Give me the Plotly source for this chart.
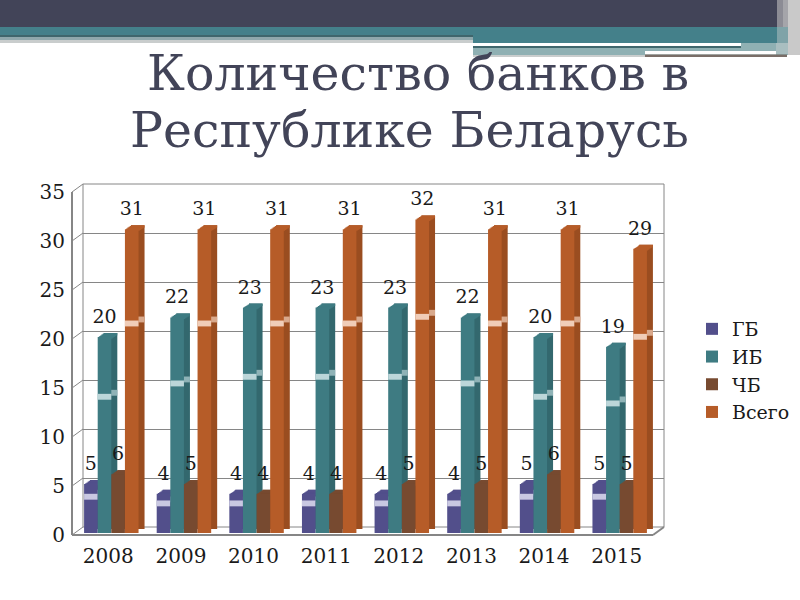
import plotly.graph_objects as go

years = ["2008", "2009", "2010", "2011", "2012", "2013", "2014", "2015"]
gb = [5, 4, 4, 4, 4, 4, 5, 5]
ib = [20, 22, 23, 23, 23, 22, 20, 19]
chb = [6, 5, 4, 4, 5, 5, 6, 5]
total = [31, 31, 31, 31, 32, 31, 31, 29]
names = ["ГБ", "ИБ", "ЧБ", "Всего"]
series = [gb, ib, chb, total]
front_colors = ["#524f8b", "#3e7b82", "#774a30", "#b65c28"]
side_colors = ["#45427a", "#33686e", "#653e27", "#9a4d20"]
band_colors = ["#c9c8e2", "#bcd6d9", None, "#f0cdb8"]
band_side = ["#9a98c0", "#8fb3b7", None, "#d9a98c"]
FONT = "DejaVu Serif"
GRAY = "#868686"
W, H = 800, 600
X0, X1, Y0, Y1 = 72, 653, 535, 192

fig = go.Figure()

def plane(n, dx, dy, **extra):
    xn = "xaxis" if n == 1 else f"xaxis{n}"
    yn = "yaxis" if n == 1 else f"yaxis{n}"
    xa = dict(domain=[(X0 + dx) / W, (X1 + dx) / W], type="category", categoryorder="array",
              categoryarray=years, showgrid=False, showticklabels=False, ticks="", zeroline=False,
              showline=False, anchor="y" if n == 1 else f"y{n}")
    ya = dict(domain=[1 - (Y0 + dy) / H, 1 - (Y1 + dy) / H], range=[0, 35], dtick=5, showgrid=False,
              showticklabels=False, ticks="", zeroline=False, showline=False,
              anchor="x" if n == 1 else f"x{n}")
    xa.update(extra.get("x", {}))
    ya.update(extra.get("y", {}))
    fig.update_layout({xn: xa, yn: ya})
    return ("x" if n == 1 else f"x{n}", "y" if n == 1 else f"y{n}")

tick_font = dict(family=FONT, size=20, color="#1a1a1a")
p_wall = plane(1, 11, -8, y=dict(showgrid=True, gridcolor=GRAY, gridwidth=1))
p_axis = plane(2, 0, 0,
               x=dict(showticklabels=True, tickfont=tick_font, ticklabelstandoff=7),
               y=dict(showticklabels=True, tickfont=tick_font, ticklabelstandoff=6))
p_side = plane(3, 9, -6)
top_planes = [plane(4 + k, 3 + 1.2 * (k + 1), -2 - 0.8 * (k + 1)) for k in range(5)]
p_front = plane(9, 3, -2)
p_text = plane(10, 3, -9)

hidden = dict(hoverinfo="skip", showlegend=False)
fig.add_bar(x=years, y=total, xaxis=p_wall[0], yaxis=p_wall[1], marker_opacity=0, **hidden)
fig.add_bar(x=years, y=total, xaxis=p_axis[0], yaxis=p_axis[1], marker_opacity=0, **hidden)

for i, vals in enumerate(series):
    g = str(i)
    fig.add_bar(x=years, y=vals, xaxis=p_side[0], yaxis=p_side[1], offsetgroup=g,
                marker=dict(color=side_colors[i], line_width=0), **hidden)
    if band_side[i]:
        fig.add_bar(x=years, y=[0.6] * 8, base=[v * 0.68 for v in vals], xaxis=p_side[0], yaxis=p_side[1],
                    offsetgroup=g, marker=dict(color=band_side[i], line_width=0), **hidden)

# sloped top face of each column
for p in top_planes:
    for i, vals in enumerate(series):
        fig.add_bar(x=years, y=[0.25] * 8, base=[v - 0.25 for v in vals], xaxis=p[0], yaxis=p[1],
                    offsetgroup=str(i), marker=dict(color=front_colors[i], line_width=0), **hidden)

for i, (name, vals) in enumerate(zip(names, series)):
    g = str(i)
    fig.add_bar(x=years, y=vals, xaxis=p_front[0], yaxis=p_front[1], offsetgroup=g, name=name,
                legendgroup=name, marker=dict(color=front_colors[i], line_width=0), hoverinfo="skip")
    if band_colors[i]:
        fig.add_bar(x=years, y=[0.6] * 8, base=[v * 0.68 for v in vals], xaxis=p_front[0], yaxis=p_front[1],
                    offsetgroup=g, marker=dict(color=band_colors[i], line_width=0), **hidden)

for i, vals in enumerate(series):
    fig.add_bar(x=years, y=vals, xaxis=p_text[0], yaxis=p_text[1], offsetgroup=str(i),
                marker_opacity=0, text=[str(v) for v in vals], textposition="outside", cliponaxis=False,
                constraintext="none",
                textfont=dict(family=FONT, size=19, color="#1a1a1a"), **hidden)

def px(x):
    return x / W

def py(y):
    return 1 - y / H

def seg(x0, y0, x1, y1, color=GRAY, width=2):
    return dict(type="line", xref="paper", yref="paper", x0=px(x0), y0=py(y0), x1=px(x1), y1=py(y1),
                line=dict(color=color, width=width), layer="below")

def rect(x0, y0, x1, y1, color):
    return dict(type="rect", xref="paper", yref="paper", x0=px(x0), y0=py(y0), x1=px(x1), y1=py(y1),
                line_width=0, fillcolor=color, layer="below")

shapes = [
    rect(0, 0, 800, 27, "#424458"),
    rect(0, 27, 800, 35, "#44808a"),
    rect(0, 35, 473, 37, "#3f666c"),
    rect(0, 37, 473, 40, "#8fa8ac"),
    rect(0, 40, 473, 43, "#c9cdcd"),
    rect(473, 35, 800, 43, "#44808a"),
    rect(473, 43, 800, 55, "#8fb0b3"),
    rect(473, 43, 741, 46, "#ffffff"),
    rect(473, 46, 741, 48, "#3f666c"),
    rect(473, 55, 645, 57, "#c9cdcd"),
    rect(645, 51, 776, 54.5, "#ffffff"),
    rect(645, 54.5, 787, 57, "#7a6e68"),
    rect(777, 0, 783, 27, "#8c8c95"),
    rect(783, 0, 788, 27, "#a5a5aa"),
    rect(788, 0, 800, 55, "#c9c9c9"),
    rect(777, 27, 788, 43, "#7fa3a8"),
    rect(776, 43, 788, 54, "#a9bec0"),
    seg(72, 192, 72, 535),
    seg(72, 535, 653, 535),
    seg(653, 535, 664, 527),
    seg(83, 184, 664, 184, width=1),
    seg(83, 184, 83, 527, width=1),
    seg(664, 184, 664, 527, width=1),
    seg(83, 527, 664, 527, width=1),
]
step = (Y0 - Y1) / 7
for k in range(8):
    yy = Y0 - k * step
    shapes.append(seg(72, yy, 83, yy - 8, width=1))

title_font = dict(family=FONT, size=49, color="#424458")
fig.update_layout(
    width=W, height=H, margin=dict(l=0, r=0, t=0, b=0, autoexpand=False),
    paper_bgcolor="white", plot_bgcolor="rgba(0,0,0,0)",
    barmode="group", bargap=0.25, bargroupgap=0,
    shapes=shapes,
    showlegend=True,
    legend=dict(x=692 / W, y=1 - 310 / H, xanchor="left", yanchor="top", traceorder="normal",
                tracegroupgap=6, itemwidth=30, bgcolor="rgba(0,0,0,0)",
                font=dict(family=FONT, size=19, color="#1a1a1a")),
    annotations=[
        dict(xref="paper", yref="paper", x=418 / W, y=py(74), xanchor="center", yanchor="middle",
             text="Количество банков в", showarrow=False, font=title_font),
        dict(xref="paper", yref="paper", x=410 / W, y=py(131), xanchor="center", yanchor="middle",
             text="Республике Беларусь", showarrow=False, font=title_font),
    ],
)
fig.write_html("out.html", config=dict(displayModeBar=False),
               post_script="document.body.style.margin='0';")
